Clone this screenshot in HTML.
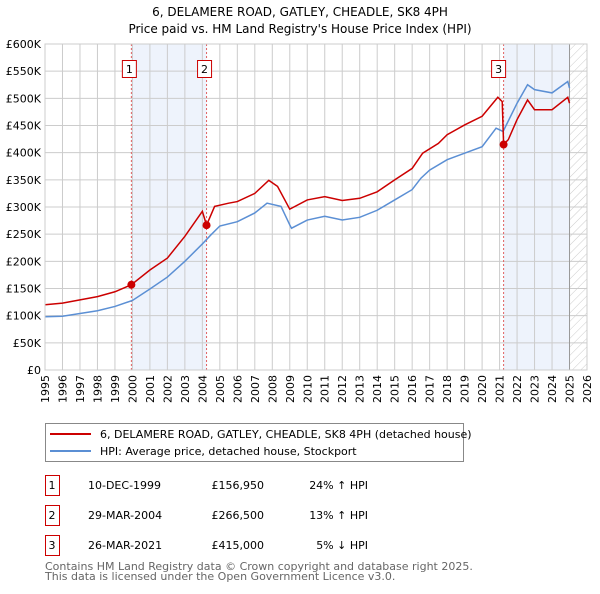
<!DOCTYPE html>
<html><head><meta charset="utf-8">
<style>
body{margin:0;background:#fff;font-family:"DejaVu Sans","Liberation Sans",sans-serif;}
svg text{font-family:"DejaVu Sans","Liberation Sans",sans-serif;}
</style></head>
<body>
<svg id="chart" width="600" height="590">
<defs>
<pattern id="hatch" width="6" height="6" patternUnits="userSpaceOnUse" patternTransform="rotate(45)">
<line x1="0" y1="0" x2="0" y2="6" stroke="#ccc" stroke-width="1"/>
</pattern>
</defs>
<text x="300" y="16" text-anchor="middle" font-size="12">6, DELAMERE ROAD, GATLEY, CHEADLE, SK8 4PH</text>
<text x="300" y="33" text-anchor="middle" font-size="12">Price paid vs. HM Land Registry's House Price Index (HPI)</text>
<g id="plot"></g>
<g>
<rect x="45.5" y="423.5" width="418" height="38" fill="#fff" stroke="#888"/>
<line x1="50" y1="434" x2="91" y2="434" stroke="#cc0000" stroke-width="2"/>
<text x="100" y="438" font-size="11">6, DELAMERE ROAD, GATLEY, CHEADLE, SK8 4PH (detached house)</text>
<line x1="50" y1="451" x2="91" y2="451" stroke="#5b8fd4" stroke-width="2"/>
<text x="100" y="455" font-size="11">HPI: Average price, detached house, Stockport</text>
</g>
<g id="table" font-size="11"></g>
<text x="45" y="570" font-size="11" fill="#666">Contains HM Land Registry data © Crown copyright and database right 2025.</text>
<text x="45" y="580" font-size="11" fill="#666">This data is licensed under the Open Government Licence v3.0.</text>
</svg>
<script>
const hpiYears=[1995,1996,1997,1998,1999,2000,2001,2002,2003,2004,2004.5,2005,2006,2007,2007.7,2008.5,2009,2009.1,2010,2011,2012,2013,2014,2015,2016,2016.5,2017,2018,2019,2020,2020.8,2021.2,2022,2022.6,2023,2024,2024.9,2025];
const hpiValues=[98000,99000,104000,109000,117000,128000,149000,171000,200000,232000,249000,265000,273000,289000,307000,301000,267000,261000,276000,283000,276000,281000,294000,313000,332000,353000,368000,387000,399000,411000,445000,439000,491000,525000,516000,510000,531000,519000];
const propYears=[1995,1996,1997,1998,1999,1999.94,2001,2002,2003,2004.0,2004.24,2004.7,2005.5,2006,2007,2007.8,2008.3,2009,2010,2011,2012,2013,2014,2015,2016,2016.6,2017.5,2018,2019,2020,2020.9,2021.15,2021.23,2021.5,2022,2022.6,2023,2024,2024.9,2025];
const propValues=[120000,123000,129000,135000,144000,156950,184000,206000,246000,292000,266500,301000,307000,310000,325000,349000,338000,296000,313000,319000,312000,316000,328000,350000,371000,399000,417000,433000,451000,467000,502000,494000,415000,424000,461000,497000,479000,479000,502000,491000];
const saleLabels=["1","2","3"];
const saleYears=[1999.94,2004.24,2021.23];
const salePrices=[156950,266500,415000];
const saleDates=["10-DEC-1999","29-MAR-2004","26-MAR-2021"];
const salePriceText=["£156,950","£266,500","£415,000"];
const saleHpiText=["24% ↑ HPI","13% ↑ HPI","5% ↓ HPI"];
const yTicks=[0,50000,100000,150000,200000,250000,300000,350000,400000,450000,500000,550000,600000];
const yTickLabels=["£0","£50K","£100K","£150K","£200K","£250K","£300K","£350K","£400K","£450K","£500K","£550K","£600K"];
const xTicks=[1995,1996,1997,1998,1999,2000,2001,2002,2003,2004,2005,2006,2007,2008,2009,2010,2011,2012,2013,2014,2015,2016,2017,2018,2019,2020,2021,2022,2023,2024,2025,2026];
const dataEnd=2025.0;

const X0=45,X1=587,Y0=370,Y1=44;
const xs=y=>X0+(y-1995)/(2026-1995)*(X1-X0);
const ys=v=>Y0-v/600000*(Y0-Y1);
const NS="http://www.w3.org/2000/svg";
const plot=document.getElementById('plot');
function mk(tag,attrs,parent){const e=document.createElementNS(NS,tag);for(const k in attrs)e.setAttribute(k,attrs[k]);(parent||plot).appendChild(e);return e;}

let r=mk('rect',{x:xs(saleYears[0]),y:Y1,width:xs(saleYears[1])-xs(saleYears[0]),height:Y0-Y1,fill:'#eef3fc'});


r=mk('rect',{x:xs(saleYears[2]),y:Y1,width:xs(dataEnd)-xs(saleYears[2]),height:Y0-Y1,fill:'#eef3fc'});


r=mk('rect',{x:xs(dataEnd),y:Y1,width:X1-xs(dataEnd),height:Y0-Y1,fill:'url(#hatch)'});



yTicks.forEach((t,i)=>{
 const l=mk('line',{x1:X0,x2:X1,y1:ys(t),y2:ys(t),stroke:'#ccc'});
 
 
 const tx=mk('text',{x:X0-4,y:ys(t)+4,'text-anchor':'end','font-size':'11'});
 tx.textContent=yTickLabels[i];
 
 
});
xTicks.forEach(t=>{
 const l=mk('line',{x1:xs(t),x2:xs(t),y1:Y1,y2:Y0,stroke:'#ccc'});
 
 
 const tx=mk('text',{x:0,y:0,'text-anchor':'end','font-size':'11',transform:'translate('+(xs(t)+4)+','+(Y0+5)+') rotate(-90)'});
 tx.textContent=t;
 
 
});
r=mk('line',{x1:xs(dataEnd),x2:xs(dataEnd),y1:Y1,y2:Y0,stroke:'#999'});



saleYears.forEach((s,i)=>{
 const l=mk('line',{x1:xs(s),x2:xs(s),y1:Y1,y2:Y0,stroke:'#e06060','stroke-dasharray':'2,2'});
 
 
});

let p=mk('polyline',{points:hpiYears.map((y,i)=>xs(y)+','+ys(hpiValues[i])).join(' '),fill:'none',stroke:'#5b8fd4','stroke-width':1.5});


p=mk('polyline',{points:propYears.map((y,i)=>xs(y)+','+ys(propValues[i])).join(' '),fill:'none',stroke:'#cc0000','stroke-width':1.5});



saleYears.forEach((s,i)=>{
 const c=mk('circle',{cx:xs(s),cy:ys(salePrices[i]),r:4,fill:'#cc0000'});
 
 
 const bx=xs(s)-(i==2?4:1)-8;
 const b=mk('rect',{x:bx,y:60.5,width:14,height:17,fill:'#fff',stroke:'#cc0000'});
 
 
 const t=mk('text',{x:bx+7,y:73,'text-anchor':'middle','font-size':'11'});
 t.textContent=saleLabels[i];
 
 
});
let f=mk('rect',{x:X0,y:Y1,width:X1-X0,height:Y0-Y1,fill:'none',stroke:'#ccc'});



const tb=document.getElementById('table');
saleYears.forEach((s,i)=>{
 const yy=475+i*30;
 const b=mk('rect',{x:45.5,y:yy+0.5,width:14,height:20,fill:'none',stroke:'#cc0000'},tb);
 
 
 const cells=[[52,saleLabels[i],'middle'],[88,saleDates[i],'start'],[264,salePriceText[i],'end'],[368,saleHpiText[i],'end']];
 cells.forEach(c=>{
  const t=mk('text',{x:c[0],y:yy+14,'text-anchor':c[2]},tb);
  t.textContent=c[1];
  
  
 });
});
</script>
</body></html>
